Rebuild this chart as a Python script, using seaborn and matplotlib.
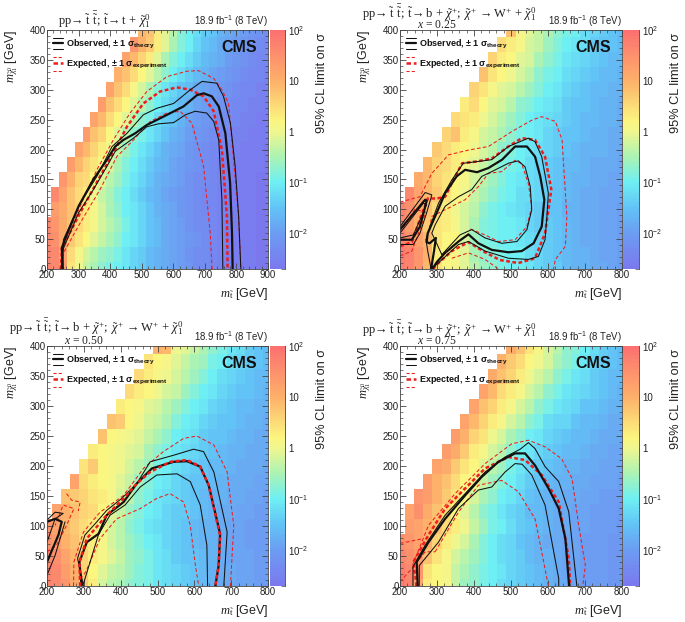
import numpy as np
import pandas as pd
import matplotlib
matplotlib.use("Agg")
import matplotlib.pyplot as plt
from matplotlib.colors import LinearSegmentedColormap, LogNorm
from matplotlib.ticker import LogLocator, NullFormatter, MultipleLocator
import seaborn as sns

# log10 of the limit, rows from m_LSP=400 down to 0, each row right aligned (first cells are empty)
grid_a = [
 [0.9,0.8,0.3,-0.1,-0.4,-0.8,-1.0,-1.2,-1.4,-1.5,-1.7,-1.8,-1.9,-2.0,-2.1,-2.2,-2.3],
 [1.4,1.0,0.7,0.3,-0.1,-0.5,-0.8,-1.0,-1.3,-1.5,-1.6,-1.8,-1.9,-2.0,-2.1,-2.2,-2.3,-2.4],
 [1.2,0.9,0.6,0.3,-0.1,-0.5,-0.8,-1.0,-1.2,-1.4,-1.6,-1.7,-1.8,-2.0,-2.1,-2.2,-2.3,-2.4,-2.4],
 [1.0,0.8,0.5,0.2,-0.1,-0.4,-0.7,-1.0,-1.2,-1.4,-1.6,-1.7,-1.9,-2.0,-2.1,-2.2,-2.3,-2.4,-2.4,-2.5],
 [1.2,0.8,0.5,0.1,-0.2,-0.5,-0.8,-1.1,-1.3,-1.5,-1.6,-1.8,-1.9,-2.0,-2.1,-2.2,-2.3,-2.4,-2.4,-2.5,-2.5],
 [1.3,0.8,0.5,0.2,-0.1,-0.4,-0.7,-1.0,-1.2,-1.4,-1.6,-1.7,-1.9,-2.0,-2.1,-2.2,-2.3,-2.4,-2.4,-2.5,-2.5,-2.6],
 [1.2,0.9,0.5,0.2,-0.1,-0.4,-0.7,-0.9,-1.2,-1.4,-1.5,-1.7,-1.9,-2.0,-2.1,-2.2,-2.3,-2.3,-2.4,-2.5,-2.5,-2.6,-2.6],
 [1.3,0.8,0.6,0.2,-0.1,-0.4,-0.7,-0.9,-1.1,-1.3,-1.5,-1.7,-1.8,-2.0,-2.1,-2.2,-2.3,-2.4,-2.4,-2.5,-2.5,-2.6,-2.6,-2.6],
 [1.2,0.9,0.6,0.3,0.0,-0.3,-0.6,-0.9,-1.1,-1.3,-1.5,-1.7,-1.8,-1.9,-2.1,-2.2,-2.3,-2.4,-2.4,-2.5,-2.5,-2.6,-2.6,-2.6,-2.7],
 [1.3,0.9,0.6,0.4,0.1,-0.2,-0.5,-0.8,-1.0,-1.2,-1.4,-1.6,-1.7,-1.9,-2.0,-2.1,-2.2,-2.3,-2.4,-2.5,-2.5,-2.6,-2.6,-2.6,-2.6,-2.7],
 [1.4,1.0,0.6,0.5,0.2,-0.1,-0.4,-0.6,-0.9,-1.1,-1.3,-1.5,-1.7,-1.8,-1.9,-2.0,-2.2,-2.3,-2.3,-2.4,-2.5,-2.5,-2.6,-2.6,-2.6,-2.7,-2.7],
 [1.6,1.2,0.8,0.5,0.3,0.0,-0.3,-0.5,-0.8,-1.0,-1.2,-1.4,-1.6,-1.7,-1.9,-2.0,-2.1,-2.2,-2.3,-2.4,-2.4,-2.5,-2.5,-2.6,-2.6,-2.6,-2.7,-2.7],
 [1.3,1.1,0.8,0.6,0.3,0.1,-0.2,-0.5,-0.7,-1.0,-1.1,-1.3,-1.5,-1.7,-1.8,-1.9,-2.1,-2.2,-2.3,-2.4,-2.4,-2.5,-2.5,-2.6,-2.6,-2.6,-2.7,-2.7],
 [1.6,1.4,1.1,0.8,0.5,0.3,0.1,-0.2,-0.4,-0.6,-0.9,-1.1,-1.3,-1.5,-1.6,-1.8,-1.9,-2.0,-2.2,-2.3,-2.3,-2.4,-2.5,-2.5,-2.6,-2.6,-2.6,-2.7,-2.7],
 [1.6,1.5,1.1,0.7,0.4,0.2,-0.1,-0.3,-0.5,-0.7,-1.0,-1.1,-1.3,-1.5,-1.6,-1.8,-1.9,-2.0,-2.1,-2.2,-2.3,-2.4,-2.5,-2.5,-2.6,-2.6,-2.6,-2.7,-2.7],
 [1.7,1.6,1.2,0.5,0.1,-0.2,-0.4,-0.6,-0.7,-0.9,-1.1,-1.3,-1.4,-1.6,-1.7,-1.8,-1.9,-2.0,-2.2,-2.3,-2.3,-2.4,-2.5,-2.5,-2.6,-2.6,-2.6,-2.7,-2.7],
 [1.7,1.6,1.3,0.4,0.0,-0.3,-0.5,-0.7,-0.9,-1.0,-1.1,-1.3,-1.4,-1.6,-1.7,-1.8,-1.9,-2.0,-2.1,-2.3,-2.3,-2.4,-2.5,-2.5,-2.6,-2.6,-2.6,-2.7,-2.7],
]
grid_b = [
 [0.8,0.1,-0.1,-0.3,-0.5,-0.7,-0.9,-1.0,-1.2,-1.3,-1.4,-1.5,-1.6],
 [0.5,0.3,0.1,-0.2,-0.3,-0.6,-0.8,-1.0,-1.1,-1.2,-1.4,-1.5,-1.5,-1.6],
 [0.6,0.3,0.2,-0.1,-0.2,-0.5,-0.7,-0.9,-1.1,-1.2,-1.3,-1.4,-1.5,-1.6,-1.6],
 [0.8,0.4,0.2,0.0,-0.2,-0.4,-0.7,-0.9,-1.0,-1.2,-1.3,-1.4,-1.5,-1.6,-1.6,-1.7],
 [0.6,0.4,0.1,-0.1,-0.2,-0.4,-0.6,-0.8,-1.0,-1.1,-1.3,-1.4,-1.5,-1.6,-1.6,-1.7,-1.7],
 [0.3,0.5,0.2,-0.1,-0.2,-0.4,-0.7,-0.8,-1.0,-1.1,-1.2,-1.4,-1.5,-1.5,-1.6,-1.7,-1.7,-1.8],
 [0.5,0.4,0.3,0.0,-0.2,-0.4,-0.6,-0.8,-1.0,-1.1,-1.2,-1.3,-1.4,-1.5,-1.6,-1.6,-1.7,-1.7,-1.8],
 [0.6,0.8,0.3,0.1,-0.2,-0.3,-0.5,-0.7,-0.9,-1.0,-1.1,-1.3,-1.4,-1.5,-1.5,-1.6,-1.7,-1.7,-1.8,-1.8],
 [0.7,0.5,0.3,0.2,0.0,-0.2,-0.4,-0.7,-0.8,-1.0,-1.1,-1.2,-1.3,-1.4,-1.5,-1.6,-1.7,-1.7,-1.7,-1.8,-1.8],
 [0.9,0.6,0.5,0.3,0.1,-0.1,-0.3,-0.5,-0.8,-0.9,-1.0,-1.2,-1.3,-1.4,-1.5,-1.6,-1.6,-1.7,-1.8,-1.8,-1.8,-1.9],
 [1.1,0.9,0.6,0.4,0.2,0.1,-0.2,-0.4,-0.6,-0.8,-1.0,-1.1,-1.2,-1.3,-1.4,-1.5,-1.6,-1.7,-1.7,-1.8,-1.8,-1.9,-1.9],
 [1.6,1.2,0.9,0.7,0.4,0.2,0.0,-0.3,-0.5,-0.7,-0.9,-1.0,-1.2,-1.2,-1.3,-1.4,-1.5,-1.6,-1.7,-1.8,-1.8,-1.9,-1.9,-1.9],
 [1.7,1.5,1.1,0.8,0.5,0.3,0.0,-0.2,-0.4,-0.7,-0.9,-1.0,-1.1,-1.2,-1.3,-1.4,-1.5,-1.5,-1.7,-1.7,-1.8,-1.8,-1.9,-1.9,-2.0],
 [1.6,1.3,1.0,0.7,0.4,0.3,0.1,-0.2,-0.5,-0.8,-0.9,-1.0,-1.0,-1.1,-1.3,-1.4,-1.4,-1.5,-1.6,-1.7,-1.8,-1.8,-1.9,-1.9,-2.0],
 [1.7,1.5,1.2,0.9,0.4,0.2,0.2,-0.2,-0.6,-0.8,-0.9,-1.0,-1.0,-1.1,-1.2,-1.3,-1.4,-1.5,-1.6,-1.7,-1.8,-1.8,-1.9,-1.9,-2.0],
 [1.8,1.7,1.4,1.0,0.3,0.2,0.1,-0.1,-0.5,-0.7,-0.8,-0.9,-1.0,-1.0,-1.2,-1.3,-1.4,-1.5,-1.6,-1.7,-1.7,-1.8,-1.9,-1.9,-2.0],
 [1.8,1.7,1.4,0.9,0.4,0.2,0.1,-0.1,-0.4,-0.6,-0.7,-0.9,-1.0,-1.0,-1.1,-1.3,-1.4,-1.4,-1.6,-1.7,-1.7,-1.8,-1.8,-1.9,-2.0],
]
grid_c = [
 [1.0,0.9,0.0,-0.1,-0.3,-0.5,-0.7,-0.9,-1.1,-1.2,-1.4,-1.5,-1.6],
 [0.4,0.2,0.1,-0.1,-0.3,-0.5,-0.6,-0.9,-1.0,-1.2,-1.3,-1.4,-1.5,-1.6],
 [0.5,0.3,0.1,0.0,-0.2,-0.4,-0.6,-0.8,-1.0,-1.2,-1.3,-1.4,-1.5,-1.6,-1.6],
 [0.5,0.3,0.2,0.0,-0.2,-0.3,-0.6,-0.8,-1.0,-1.1,-1.3,-1.4,-1.5,-1.5,-1.6,-1.7],
 [0.3,0.2,0.1,-0.1,-0.2,-0.4,-0.6,-0.8,-1.0,-1.1,-1.3,-1.4,-1.5,-1.6,-1.6,-1.7,-1.7],
 [0.8,0.7,0.2,0.0,-0.2,-0.3,-0.5,-0.8,-1.0,-1.1,-1.3,-1.4,-1.5,-1.5,-1.6,-1.7,-1.7,-1.8],
 [0.8,0.2,0.1,0.0,-0.1,-0.3,-0.5,-0.7,-1.0,-1.1,-1.2,-1.4,-1.5,-1.5,-1.6,-1.7,-1.7,-1.8,-1.8],
 [0.3,0.2,0.1,0.0,-0.1,-0.2,-0.5,-0.7,-0.9,-1.1,-1.2,-1.3,-1.4,-1.5,-1.6,-1.7,-1.7,-1.8,-1.8,-1.8],
 [0.4,0.7,0.2,0.1,0.0,-0.2,-0.4,-0.6,-0.9,-1.0,-1.2,-1.3,-1.4,-1.5,-1.6,-1.6,-1.7,-1.8,-1.8,-1.8,-1.9],
 [1.2,0.5,0.3,0.2,0.1,-0.1,-0.3,-0.6,-0.8,-1.0,-1.1,-1.3,-1.4,-1.5,-1.5,-1.6,-1.7,-1.8,-1.8,-1.8,-1.9,-1.9],
 [0.8,0.7,0.6,0.4,0.3,0.1,-0.2,-0.4,-0.7,-0.9,-1.1,-1.2,-1.3,-1.4,-1.5,-1.6,-1.7,-1.7,-1.8,-1.8,-1.9,-1.9,-2.0],
 [1.2,1.0,0.8,0.6,0.5,0.2,-0.1,-0.3,-0.6,-0.8,-1.0,-1.1,-1.3,-1.4,-1.4,-1.5,-1.6,-1.7,-1.8,-1.8,-1.9,-1.9,-2.0,-2.0],
 [1.4,1.2,0.9,0.7,0.5,0.3,0.0,-0.2,-0.4,-0.7,-0.9,-1.1,-1.2,-1.3,-1.4,-1.5,-1.6,-1.7,-1.7,-1.8,-1.9,-1.9,-2.0,-2.0,-2.0],
 [1.5,1.3,1.0,0.8,0.5,0.3,0.1,-0.2,-0.4,-0.6,-0.8,-1.0,-1.1,-1.3,-1.4,-1.5,-1.6,-1.7,-1.7,-1.8,-1.9,-1.9,-2.0,-2.0,-2.0],
 [1.6,1.5,1.2,0.9,0.6,0.3,0.1,-0.1,-0.3,-0.6,-0.7,-0.9,-1.1,-1.2,-1.4,-1.5,-1.5,-1.6,-1.7,-1.8,-1.9,-1.9,-1.9,-2.0,-2.0],
 [1.7,1.6,1.3,1.0,0.6,0.2,-0.1,-0.3,-0.4,-0.6,-0.8,-0.9,-1.1,-1.2,-1.3,-1.4,-1.5,-1.6,-1.7,-1.8,-1.8,-1.9,-1.9,-2.0,-2.0],
 [1.7,1.6,1.4,1.1,0.7,0.3,-0.2,-0.4,-0.5,-0.7,-0.8,-0.9,-1.1,-1.2,-1.3,-1.4,-1.5,-1.6,-1.7,-1.8,-1.8,-1.9,-1.9,-2.0,-2.0],
]
grid_d = [
 [1.1,0.8,0.4,0.1,-0.2,-0.4,-0.7,-0.8,-1.0,-1.2,-1.4,-1.5,-1.6],
 [1.0,0.7,0.5,0.2,0.0,-0.2,-0.5,-0.7,-0.9,-1.1,-1.3,-1.4,-1.5,-1.6],
 [1.1,0.8,0.6,0.3,0.0,-0.2,-0.4,-0.7,-0.9,-1.1,-1.2,-1.4,-1.5,-1.6,-1.6],
 [1.2,0.9,0.5,0.3,0.1,-0.2,-0.4,-0.7,-0.9,-1.1,-1.2,-1.3,-1.4,-1.5,-1.6,-1.7],
 [1.2,0.8,0.6,0.3,0.1,-0.2,-0.4,-0.7,-0.9,-1.1,-1.2,-1.3,-1.5,-1.5,-1.6,-1.7,-1.7],
 [1.2,0.9,0.6,0.3,0.1,-0.2,-0.4,-0.7,-0.9,-1.2,-1.3,-1.3,-1.5,-1.6,-1.6,-1.7,-1.8,-1.8],
 [1.3,1.0,0.6,0.4,0.0,-0.2,-0.5,-0.7,-1.0,-1.1,-1.3,-1.4,-1.5,-1.6,-1.6,-1.7,-1.8,-1.8,-1.8],
 [1.3,1.1,0.7,0.3,0.1,-0.2,-0.4,-0.7,-1.0,-1.1,-1.3,-1.4,-1.5,-1.6,-1.6,-1.7,-1.8,-1.8,-1.9,-1.9],
 [1.2,1.1,0.7,0.4,0.2,-0.1,-0.4,-0.6,-0.9,-1.1,-1.3,-1.4,-1.5,-1.6,-1.7,-1.7,-1.8,-1.8,-1.9,-1.9,-1.9],
 [1.3,1.0,0.8,0.5,0.2,0.0,-0.3,-0.6,-0.8,-1.0,-1.2,-1.4,-1.5,-1.6,-1.7,-1.7,-1.8,-1.8,-1.9,-1.9,-1.9,-2.0],
 [1.4,1.3,1.0,0.7,0.4,0.1,-0.2,-0.5,-0.7,-1.0,-1.1,-1.3,-1.5,-1.6,-1.7,-1.7,-1.8,-1.8,-1.9,-1.9,-2.0,-2.0,-2.0],
 [1.2,1.5,1.1,0.8,0.5,0.2,-0.1,-0.4,-0.7,-0.9,-1.1,-1.3,-1.4,-1.6,-1.6,-1.7,-1.8,-1.8,-1.9,-1.9,-2.0,-2.0,-2.0,-2.1],
 [1.3,1.2,1.0,0.8,0.5,0.3,0.0,-0.3,-0.6,-0.9,-1.0,-1.2,-1.4,-1.5,-1.6,-1.7,-1.8,-1.8,-1.9,-1.9,-2.0,-2.0,-2.0,-2.1],
 [1.5,1.4,1.2,1.0,0.6,0.3,0.0,-0.2,-0.5,-0.8,-1.0,-1.2,-1.3,-1.5,-1.6,-1.7,-1.8,-1.8,-1.9,-1.9,-2.0,-2.0,-2.0,-2.1,-2.1],
 [1.6,1.5,1.3,0.8,0.4,0.1,-0.2,-0.4,-0.6,-0.8,-1.0,-1.2,-1.3,-1.4,-1.6,-1.7,-1.7,-1.8,-1.9,-1.9,-2.0,-2.0,-2.0,-2.1,-2.1],
 [1.8,1.6,1.4,0.4,0.2,0.1,-0.3,-0.5,-0.7,-0.9,-1.0,-1.1,-1.3,-1.4,-1.5,-1.6,-1.7,-1.8,-1.9,-1.9,-2.0,-2.0,-2.0,-2.1,-2.1],
 [1.8,1.7,1.2,0.3,0.2,0.1,-0.3,-0.6,-0.7,-0.9,-1.0,-1.2,-1.3,-1.4,-1.5,-1.6,-1.7,-1.8,-1.8,-1.9,-2.0,-2.0,-2.0,-2.1,-2.1],
]

# exclusion contours, (m_stop, m_LSP)
a_obs = [(250,0),(247,35),(262,57),(300,105),(347,150),(390,183),(416,205),(442,216),(479,227),(516,241),(580,258),(632,272),(675,291),(696,294),(722,289),(744,272),(765,227),(780,144),(786,60),(788,0)]
a_obs_up = [(250,0),(252,49),(305,110),(358,155),(406,205),(453,227),(505,258),(548,269),(601,277),(654,300),(691,314),(738,311),(759,289),(781,244),(796,172),(807,88),(814,0)]
a_obs_dn = [(245,0),(250,32),(300,94),(347,133),(390,172),(416,197),(474,219),(516,238),(553,243),(601,245),(638,258),(669,264),(706,261),(728,247),(744,216),(754,116),(757,0)]
a_exp = [(244,0),(247,35),(305,94),(368,155),(410,194),(453,238),(505,277),(558,297),(611,304),(654,300),(696,289),(728,264),(754,199),(770,88),(772,0)]
a_exp_up = [(244,0),(252,38),(305,105),(358,166),(410,216),(463,261),(516,297),(580,322),(643,331),(680,332),(728,319),(754,300),(775,277),(791,183),(807,88),(814,0)]
a_exp_dn = [(241,0),(252,27),(305,77),(368,133),(421,188),(474,216),(527,247),(580,261),(622,264),(659,244),(696,172),(717,60),(723,0)]

b_obs = [(287,0),(300,12),(322,27),(358,46),(385,58),(412,43),(448,32),(493,28),(529,30),(561,43),(583,71),(590,116),(579,155),(565,188),(543,205),(511,205),(476,183),(439,169),(408,162),(376,166),(353,155),(322,127),(295,88),(275,60),(272,45),(280,43),(297,52),(292,30),(284,0)]
b_obs_left = [(200,66),(268,116),(272,114),(254,71),(232,49),(200,49)]
b_obs_up = [(284,0),(300,8),(358,41),(385,46),(430,30),(493,18),(547,16),(574,21),(592,49),(597,88),(601,127),(583,188),(565,213),(547,219),(493,205),(448,183),(412,180),(371,177),(340,149),(304,110),(281,71),(270,49),(275,30),(284,0)]
b_obs_up_left = [(200,71),(268,128),(286,124),(272,94),(254,60),(236,41),(200,41)]
b_obs_dn = [(313,24),(362,57),(394,66),(430,52),(475,43),(516,46),(543,66),(556,99),(552,138),(538,171),(520,181),(493,177),(448,163),(421,155),(394,133),(358,121),(322,105),(295,74),(286,60),(299,43),(313,24)]
b_obs_dn_left = [(200,60),(263,110),(272,108),(254,82),(236,57),(200,52)]
b_exp = [(200,38),(232,45),(255,85),(275,118),(300,118),(322,121),(345,150),(368,177),(408,180),(448,185),(493,205),(529,219),(565,216),(592,188),(609,133),(592,60),(565,18),(520,10),(470,15),(430,28),(385,45),(340,30),(300,8),(290,0)]
b_exp_up = [(200,112),(254,121),(286,160),(331,191),(385,199),(439,205),(502,230),(556,249),(583,255),(620,247),(638,216),(651,88),(647,38),(620,16),(615,0)]
b_exp_dn = [(390,67),(430,57),(466,46),(511,49),(543,71),(556,104),(547,143),(529,176),(511,182),(475,163),(439,160),(412,138),(376,116),(331,102),(286,88),(277,60)]
b_exp_dn2 = [(340,18),(385,27),(430,16),(466,0)]
b_exp_dn3 = [(200,22),(232,30),(250,60),(270,95),(240,100),(215,75),(200,65)]

c_obs = [(294,0),(288,40),(308,73),(340,87),(362,118),(408,140),(444,171),(485,196),(544,207),(580,208),(616,199),(639,168),(670,87),(666,34),(657,0)]
c_obs_left = [(200,40),(231,85),(240,107),(222,112),(200,107)]
c_obs_up = [(299,0),(283,46),(303,85),(331,104),(362,126),(403,146),(444,171),(480,207),(544,218),(598,228),(625,224),(653,190),(689,90),(680,0)]
c_obs_dn = [(290,0),(299,4),(340,86),(371,118),(412,135),(453,165),(498,185),(553,187),(589,174),(616,135),(634,68),(636,0)]
c_obs_up_left = [(200,73),(222,112),(244,121),(222,123),(200,110)]
c_obs_dn_left = [(249,107),(222,51),(200,18)]
c_exp = [(290,0),(288,40),(308,79),(362,118),(408,146),(444,171),(480,190),(535,207),(580,210),(616,199),(639,168),(670,84),(666,34),(657,0)]
c_exp_up = [(272,0),(273,40),(299,90),(344,123),(408,151),(462,196),(516,224),(571,246),(607,250),(653,235),(689,190),(707,101),(698,0)]
c_exp_dn = [(290,12),(305,23),(344,79),(389,112),(453,129),(498,146),(534,154),(571,140),(589,101),(603,34),(612,0)]
c_exp_left = [(200,57),(226,68),(253,101),(273,129),(244,135),(222,101)]
c_exp_left2 = [(253,154),(267,143),(290,140),(285,125)]

d_obs = [(248,0),(245,40),(277,73),(322,112),(376,151),(421,182),(466,207),(511,221),(538,221),(565,201),(602,162),(629,129),(647,79),(657,0)]
d_obs_up = [(235,0),(235,32),(268,68),(322,118),(376,154),(430,190),(484,215),(525,228),(547,239),(565,229),(592,199),(629,174),(656,124),(678,0)]
d_obs_dn = [(252,0),(252,34),(304,73),(358,129),(412,160),(448,165),(484,190),(511,204),(530,203),(556,185),(592,135),(629,12),(629,0)]
d_exp = [(245,0),(236,40),(277,85),(322,129),(367,157),(430,196),(493,215),(538,210),(583,185),(629,140),(656,46),(660,0)]
d_exp_up = [(236,38),(277,101),(349,154),(430,204),(502,237),(547,243),(592,232),(637,212),(665,179),(683,101),(701,34),(694,0)]
d_exp_dn = [(295,57),(358,123),(412,168),(475,176),(520,157),(565,112),(583,57),(601,0)]
d_exp_dn2 = [(200,71),(263,79)]
d_exp_dn3 = [(200,7),(232,29),(268,57),(295,57)]

x_ends = [900, 800, 800, 800]
x_fractions = [None, "0.25", "0.50", "0.75"]
title_a = r"$\mathrm{pp}\!\rightarrow\tilde{\mathrm{t}}\;\,\bar{\tilde{\mathrm{t}}};\;\tilde{\mathrm{t}}\!\rightarrow\mathrm{t}\,+\,\tilde{\chi}^{0}_{1}$"
title_b = r"$\mathrm{pp}\!\rightarrow\tilde{\mathrm{t}}\;\,\bar{\tilde{\mathrm{t}}};\;\tilde{\mathrm{t}}\!\rightarrow\mathrm{b}\,+\,\tilde{\chi}^{+};\;\tilde{\chi}^{+}\;\rightarrow\mathrm{W}^{+}\,+\,\tilde{\chi}^{0}_{1}$"
titles = [title_a, title_b, title_b, title_b]
cbar_ticks = [0.01, 0.1, 1, 10, 100]
cbar_labels = [r"$\mathsf{10^{-2}}$", r"$\mathsf{10^{-1}}$", "1", "10", r"$\mathsf{10^{2}}$"]

sns.set_theme(style="white")
plt.rcParams["font.family"] = ["Liberation Sans", "DejaVu Sans"]
plt.rcParams["mathtext.fontset"] = "custom"
plt.rcParams["mathtext.rm"] = "Liberation Serif"
plt.rcParams["mathtext.it"] = "Liberation Serif:italic"
plt.rcParams["mathtext.sf"] = "Liberation Sans"
plt.rcParams["mathtext.bf"] = "Liberation Sans:bold"
plt.rcParams["mathtext.fallback"] = "stix"

W, H = 685, 622
fig = plt.figure(figsize=(W / 100, H / 100), dpi=100)

cmap = LinearSegmentedColormap.from_list("pale_rainbow", [
    (0.00, "#7B78EE"), (0.15, "#6C9DF2"), (0.255, "#62C3F6"), (0.362, "#6EEFF3"),
    (0.468, "#ABF3B4"), (0.574, "#EFF68F"), (0.617, "#FBF680"), (0.787, "#FDB16A"), (1.00, "#FC7070")])
norm = LogNorm(vmin=0.002, vmax=100)

BLACK = "#111111"
RED = "#EE1C1C"
TICK = "#444444"
STYLES = {
    "obs": dict(color=BLACK, lw=1.6),
    "thin": dict(color=BLACK, lw=0.75),
    "exp": dict(color=RED, lw=1.8, dashes=(1.5, 1.0)),
    "band": dict(color=RED, lw=0.75, dashes=(3.5, 2.2)),
}


def fx(px):
    return px / W


def axes_rect(l, r, t, b):
    return [fx(l), 1 - b / H, fx(r - l), (b - t) / H]


def add_line(ov, pts, kind):
    df = pd.DataFrame(pts, columns=["mt", "mlsp"])
    sns.lineplot(data=df, x="mt", y="mlsp", sort=False, estimator=None, ax=ov, legend=False, **STYLES[kind])


def legend_keys(ov):
    tr = ov.transAxes
    for y, kind in [(0.968, "thin"), (0.944, "obs"), (0.919, "thin")]:
        ov.plot([0.029, 0.074], [y, y], transform=tr, color=STYLES[kind]["color"], lw=STYLES[kind]["lw"])
    for y, kind in [(0.886, "band"), (0.861, "exp"), (0.829, "band")]:
        ov.plot([0.029, 0.074], [y, y], transform=tr, color=RED, lw=STYLES[kind]["lw"], dashes=(3, 2) if kind == "band" else (1.8, 1.1))
    ov.text(0.087, 0.944, "Observed, ± 1 σ$_{\\mathbf{theory}}$", transform=tr, fontsize=6.5, fontweight="bold", va="center", color=BLACK)
    ov.text(0.087, 0.860, "Expected, ± 1 σ$_{\\mathbf{experiment}}$", transform=tr, fontsize=6.5, fontweight="bold", va="center", color=BLACK)
    ov.text(0.952, 0.926, "CMS", transform=tr, fontsize=11.5, fontweight="bold", ha="right", va="center", color=BLACK)


def draw_panel(idx, rows, lines, rect_px, cbar_px):
    l, r, t, b = rect_px
    n = (x_ends[idx] - 200) // 25 + 1
    full = np.array([[np.nan] * (n - len(row)) + row for row in rows], dtype=float)
    ax = fig.add_axes(axes_rect(l, r, t, b))
    cax = fig.add_axes(axes_rect(cbar_px[0], cbar_px[1], t, b))
    sns.heatmap(10.0 ** full, ax=ax, cmap=cmap, norm=norm, cbar_ax=cax, xticklabels=False, yticklabels=False, linewidths=0)
    ax.set_xlim(0.5, n - 0.5)
    ax.set_ylim(16.5, 0.5)
    ax.set_xlabel("")
    ax.set_ylabel("")

    # second axes on top in real GeV, for the contours and ticks
    ov = fig.add_axes(axes_rect(l, r, t, b), facecolor="none")
    ov.set_xlim(200, x_ends[idx])
    ov.set_ylim(0, 400)
    for pts, kind in lines:
        add_line(ov, pts, kind)
    ov.set_xlim(200, x_ends[idx])
    ov.set_ylim(0, 400)
    ov.xaxis.set_major_locator(MultipleLocator(100))
    ov.xaxis.set_minor_locator(MultipleLocator(20))
    ov.yaxis.set_major_locator(MultipleLocator(50))
    ov.yaxis.set_minor_locator(MultipleLocator(10))
    ov.tick_params(which="major", direction="in", length=4.5, width=0.6, color=TICK, labelsize=7, pad=1,
                   top=True, right=True, bottom=True, left=True, labelcolor="#222222")
    ov.tick_params(which="minor", direction="in", length=2.2, width=0.5, color=TICK, top=True, right=True, bottom=True, left=True)
    for s in ov.spines.values():
        s.set_linewidth(0.6)
        s.set_color(TICK)
    ov.set_xlabel(r"$m_{\tilde{\mathrm{t}}}$ [GeV]", fontsize=9, ha="right", x=1.0, labelpad=4, color="#222222")
    ov.set_ylabel(r"$m_{\tilde{\chi}^{0}_{1}}$ [GeV]", fontsize=9, ha="right", y=1.0, labelpad=7, color="#222222")
    legend_keys(ov)

    cb = ax.collections[0].colorbar
    cb.outline.set_visible(False)
    cax.yaxis.set_ticks_position("right")
    cax.set_yticks(cbar_ticks)
    cax.set_yticklabels(cbar_labels)
    cax.yaxis.set_minor_locator(LogLocator(base=10, subs=np.arange(2, 10), numticks=12))
    cax.yaxis.set_minor_formatter(NullFormatter())
    cax.tick_params(which="major", axis="y", direction="in", length=7, width=0.6, color=TICK, labelsize=7, pad=2.5, labelcolor="#222222")
    cax.tick_params(which="minor", axis="y", direction="in", length=3, width=0.5, color=TICK)
    cax.spines["right"].set_visible(True)
    cax.spines["right"].set_linewidth(0.6)
    cax.spines["right"].set_color(TICK)
    fig.text(fx(cbar_px[1] + 37), 1 - (t + 3) / H, "95% CL limit on σ", rotation=90, fontsize=9.2, ha="center", va="top", color="#222222")

    title_left = [58, 362, 9, 362][idx]
    title_y = [20, 13, 327, 329][idx]
    fig.text(fx(title_left), 1 - title_y / H, titles[idx], fontsize=9, va="center", color="#222222")
    fig.text(fx(r), 1 - (t - 9) / H, "18.9 fb$^{\\mathsf{-1}}$ (8 TeV)", fontsize=6.9, ha="right", va="center", color="#222222")
    if x_fractions[idx]:
        fig.text(fx(l + 16.5), 1 - (t - 5.5) / H, f"$\\mathit{{x}}$ = {x_fractions[idx]}", family="Liberation Serif", fontsize=8.4, va="center", color="#222222")


panels = [
    (grid_a, [(a_exp_up, "band"), (a_exp_dn, "band"), (a_exp, "exp"), (a_obs_up, "thin"), (a_obs_dn, "thin"), (a_obs, "obs")], (47, 268, 30, 269), (270, 285)),
    (grid_b, [(b_exp_up, "band"), (b_exp_dn, "band"), (b_exp_dn2, "band"), (b_exp_dn3, "band"), (b_exp, "exp"),
              (b_obs_up, "thin"), (b_obs_up_left, "thin"), (b_obs_dn, "thin"), (b_obs_dn_left, "thin"), (b_obs, "obs"), (b_obs_left, "obs")], (400, 622, 30, 269), (623, 639)),
    (grid_c, [(c_exp_up, "band"), (c_exp_dn, "band"), (c_exp_left, "band"), (c_exp_left2, "band"), (c_obs_up, "thin"), (c_obs_dn, "thin"),
              (c_obs_up_left, "thin"), (c_obs_dn_left, "thin"), (c_obs, "obs"), (c_obs_left, "obs"), (c_exp, "exp")], (47, 268, 346, 586), (270, 285)),
    (grid_d, [(d_exp_up, "band"), (d_exp_dn, "band"), (d_exp_dn2, "band"), (d_exp_dn3, "band"), (d_exp, "exp"), (d_obs_up, "thin"), (d_obs_dn, "thin"), (d_obs, "obs")], (400, 622, 346, 586), (623, 639)),
]
for i, (rows, lines, rect_px, cbar_px) in enumerate(panels):
    draw_panel(i, rows, lines, rect_px, cbar_px)

fig.savefig("out.png", dpi=100)
